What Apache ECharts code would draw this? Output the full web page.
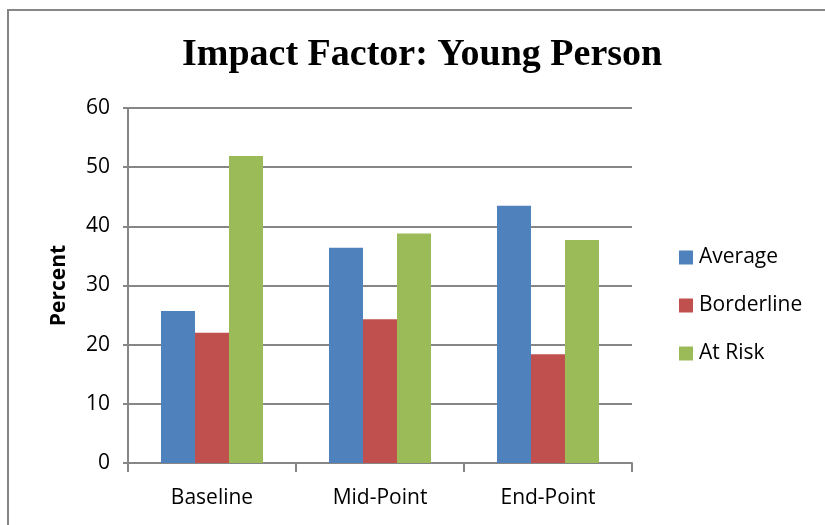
<!DOCTYPE html>
<html><head><meta charset="utf-8">
<script src="https://cdn.jsdelivr.net/npm/echarts@6/dist/echarts.min.js"></script>
<style>html,body{margin:0;padding:0;background:#fff}#c{width:825px;height:525px}</style>
</head><body><div id="c"></div>
<script>
const categories = ['Baseline', 'Mid-Point', 'End-Point'];
const average = [25.7, 36.4, 43.5];
const borderline = [22.0, 24.3, 18.4];
const atRisk = [51.9, 38.8, 37.7];
const yTicks = [0, 10, 20, 30, 40, 50, 60];

const font = '"Open Sans", Lato, sans-serif';
const chart = echarts.init(document.getElementById('c'), null, {renderer: 'canvas'});
chart.setOption({
  animation: false,
  backgroundColor: '#fff',
  graphic: [{type: 'rect', shape: {x: 8, y: 10, width: 900, height: 600}, style: {fill: 'none', stroke: '#868686', lineWidth: 2}, silent: true}],
  title: {text: 'Impact Factor: Young Person', left: 182, top: 36, padding: 0,
    textStyle: {fontFamily: '"Liberation Serif", serif', fontWeight: 'bold', fontSize: 38, color: '#000'}},
  grid: {left: 128, right: 193, top: 108, bottom: 62, containLabel: false},
  legend: {orient: 'vertical', left: 674, top: 242, itemWidth: 14, itemHeight: 14, itemGap: 27,
    icon: 'rect', textStyle: {fontFamily: font, fontSize: 21, color: '#000', padding: [0,0,0,1]},
    data: ['Average', 'Borderline', 'At Risk']},
  xAxis: {type: 'category', data: categories,
    axisLine: {lineStyle: {color: '#868686', width: 2}},
    axisTick: {show: true, length: 9, lineStyle: {color: '#868686', width: 2}},
    axisLabel: {fontFamily: font, fontSize: 21, color: '#000', margin: 25}},
  yAxis: {type: 'value', min: yTicks[0], max: yTicks[yTicks.length-1], interval: 10,
    name: 'Percent', nameLocation: 'middle', nameGap: 58, nameRotate: 90,
    nameTextStyle: {fontFamily: font, fontSize: 21, fontWeight: 'bold', color: '#000'},
    axisLine: {show: true, lineStyle: {color: '#868686', width: 2}},
    axisTick: {show: true, length: 5, lineStyle: {color: '#868686', width: 2}},
    axisLabel: {fontFamily: font, fontSize: 21, color: '#000', margin: 18},
    splitLine: {lineStyle: {color: '#868686', width: 2}}},
  series: [
    {name: 'Average', type: 'bar', data: average, barWidth: 34, barGap: '0%', itemStyle: {color: '#4f81bd'}},
    {name: 'Borderline', type: 'bar', data: borderline, barWidth: 34, barGap: '0%', itemStyle: {color: '#c0504d'}},
    {name: 'At Risk', type: 'bar', data: atRisk, barWidth: 34, barGap: '0%', itemStyle: {color: '#9bbb59'}}
  ]
});
</script></body></html>
